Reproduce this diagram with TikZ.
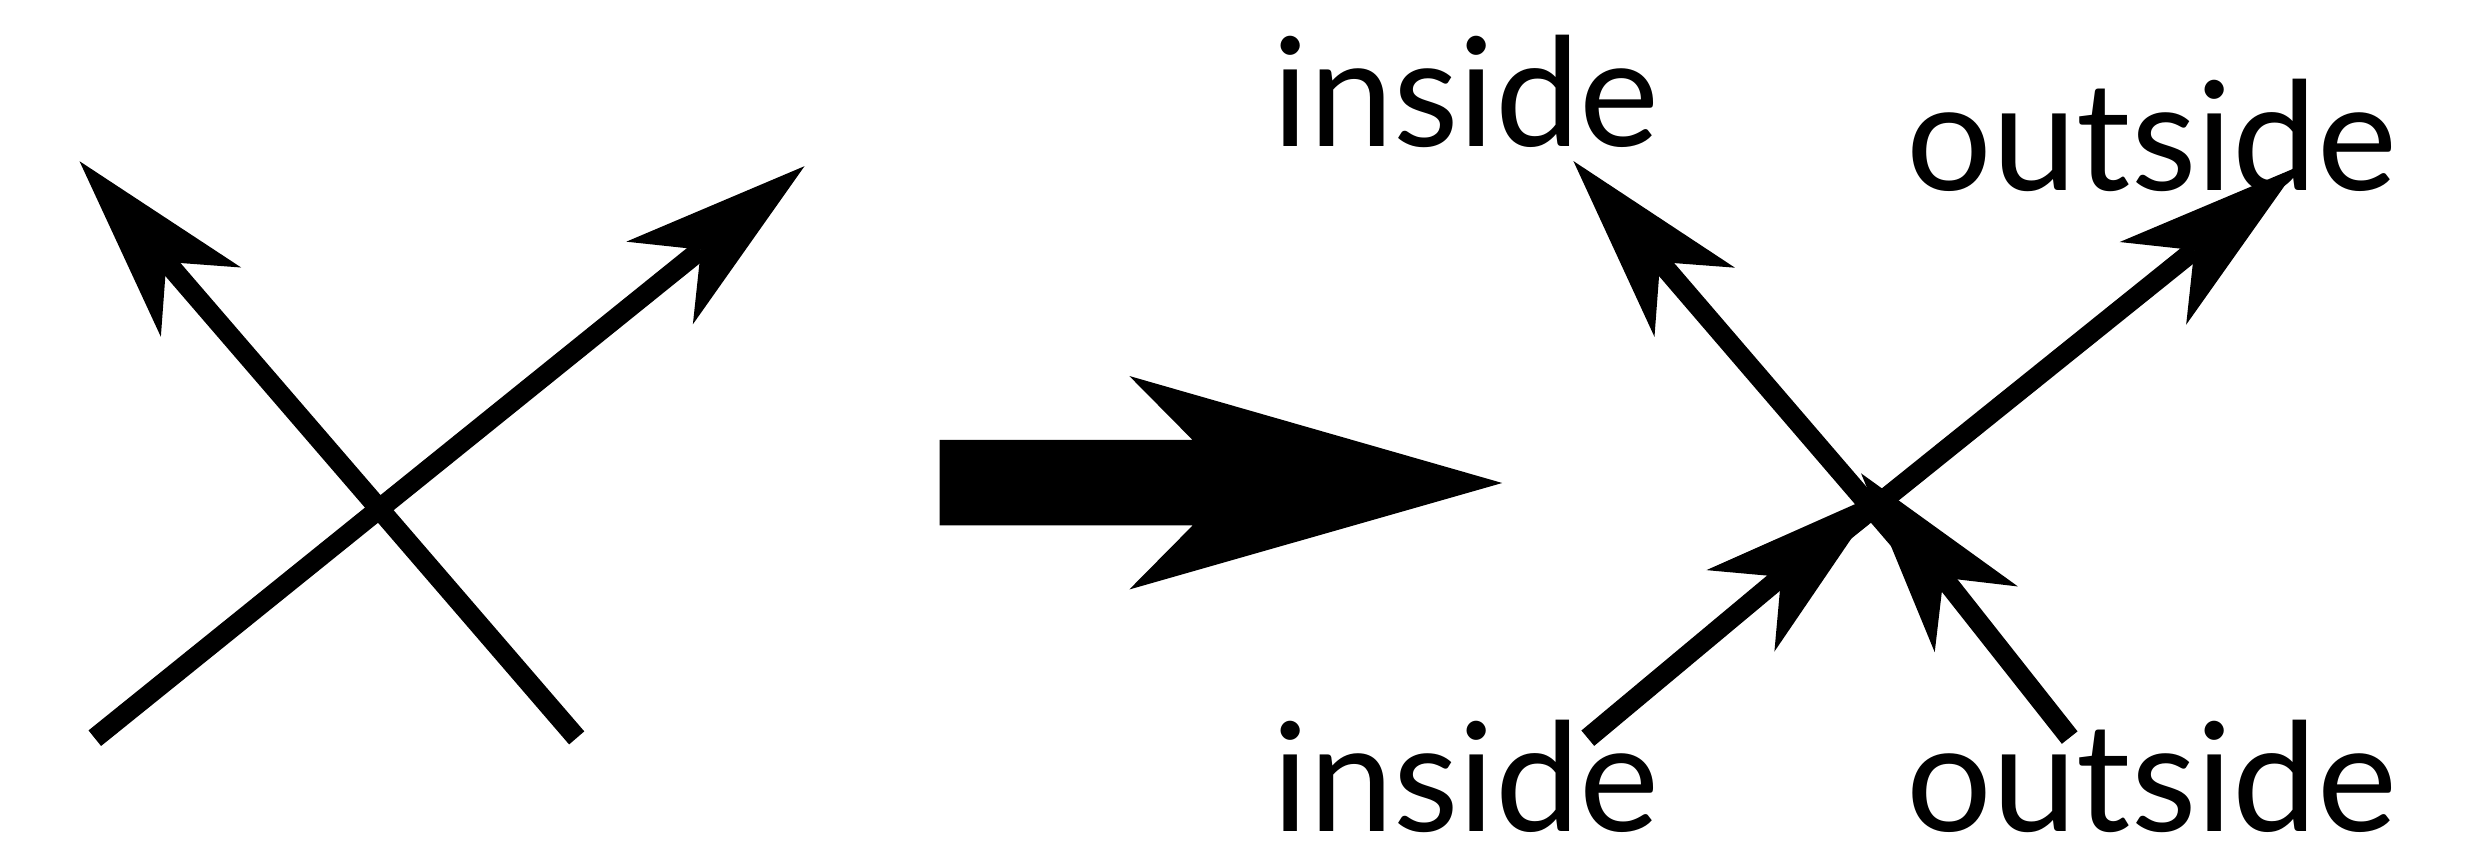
\documentclass[tikz,border=0pt]{standalone}
\usepackage{fontspec}
\setmainfont{Lato}
\usetikzlibrary{arrows.meta}
\begin{document}
\begin{tikzpicture}[x=0.01cm,y=-0.01cm,
  shaft/.style={line width=0.2cm, -{Stealth[length=1.86cm,width=1.06cm,inset=0.53cm,line width=0pt]}},
  lbl/.style={inner sep=0pt, anchor=base west, text depth=0pt, font=\fontsize{43}{50}\selectfont}]
\useasboundingbox (0,0) rectangle (2481,843);
% left figure
\coordinate (lAt) at (576.7,737.9);
\coordinate (lAh) at (79.5,161.2);
\coordinate (lBt) at (94.8,738.2);
\coordinate (lBh) at (804.5,166.2);
\draw[shaft] (lAt) -- (lAh);
\draw[shaft] (lBt) -- (lBh);
% middle arrow
\coordinate (m1) at (939.5,440);
\coordinate (m2) at (1192.6,440);
\coordinate (m3) at (1129.3,376);
\coordinate (m4) at (1502.2,483);
\coordinate (m5) at (1129.3,589.5);
\coordinate (m6) at (1192.6,525.5);
\coordinate (m7) at (939.5,525.5);
\fill (m1) -- (m2) -- (m3) -- (m4) -- (m5) -- (m6) -- (m7) -- cycle;
% right figure
\coordinate (rNWs) at (1905,547);
\coordinate (rNWh) at (1573.4,161.1);
\coordinate (rNEs) at (1841,534);
\coordinate (rNEh) at (2298,166.8);
\coordinate (rIt) at (1587.8,738.2);
\coordinate (rIh) at (1883.3,491.6);
\coordinate (rOt) at (2069.7,737.6);
\coordinate (rOh) at (1861,473.3);
\draw[shaft] (rNWs) -- (rNWh);
\draw[shaft] (rNEs) -- (rNEh);
\draw[shaft] (rIt) -- (rIh);
\draw[shaft] (rOt) -- (rOh);
% labels
\node[lbl] (tin) at (1272,146.7) {inside};
\node[lbl] (tout) at (1906,190.7) {outside};
\node[lbl] (bin) at (1272,831.7) {inside};
\node[lbl] (bout) at (1906,831.7) {outside};
\end{tikzpicture}
\end{document}
